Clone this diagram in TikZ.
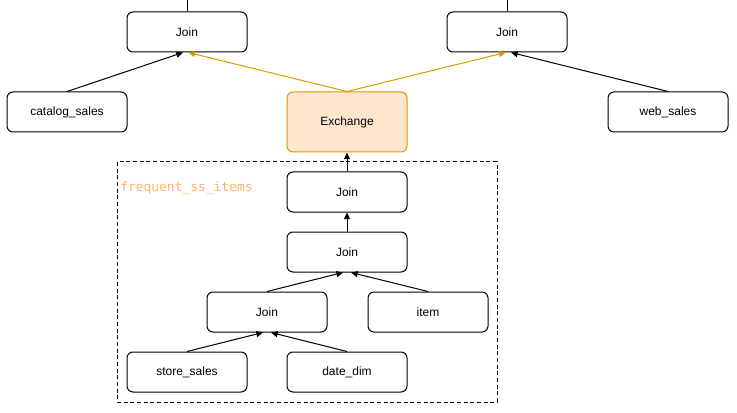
\documentclass[tikz,border=0pt]{standalone}
\usepackage{fontspec}
\setmainfont{Liberation Sans}
\newfontfamily\codefont{DejaVu Sans Mono}
\usetikzlibrary{arrows.meta}
\definecolor{xorange}{HTML}{D79B00}
\definecolor{xfill}{HTML}{FFE6CC}
\definecolor{xlabel}{HTML}{FFB366}
\tikzset{
  opbox/.style={rectangle, draw, rounded corners=4.5pt, line width=0.75pt,
    minimum width=90pt, minimum height=30pt, font=\fontsize{9}{11}\selectfont},
  edge/.style={line width=0.75pt, -{Triangle[length=5pt,width=4.5pt]}},
}
\begin{document}
\begin{tikzpicture}[x=0.75pt,y=-0.75pt]
  \useasboundingbox (0,0) rectangle (737,413);
  % Nodes
  \node (joinL) at (187,32) [opbox] {Join};
  \node (joinR) at (507,32) [opbox] {Join};
  \node (catalog) at (67,112) [opbox] {catalog\_sales};
  \node (exchange) at (347,122) [opbox, draw=xorange, fill=xfill, minimum height=45pt] {Exchange};
  \node (web) at (668,112) [opbox] {web\_sales};
  \node (joinA) at (347,192) [opbox] {Join};
  \node (joinB) at (347,252) [opbox] {Join};
  \node (joinC) at (267,312) [opbox] {Join};
  \node (item) at (428,312) [opbox] {item};
  \node (store) at (187,372) [opbox] {store\_sales};
  \node (date) at (347,372) [opbox] {date\_dim};
  \coordinate (topL) at (187,0);
  \coordinate (topR) at (507,0);

  % Group
  \draw[dashed, line width=0.75pt, dash pattern=on 3pt off 2pt] (117,162) rectangle (497,402);
  \node (grp) at (120,188) [anchor=west, inner sep=0pt, text=xlabel, font=\codefont\fontsize{9.7}{11}\selectfont] {frequent\_ss\_items};

  % Edges
  \draw[line width=0.75pt] (joinL.north) -- (topL);
  \draw[line width=0.75pt] (joinR.north) -- (topR);
  \draw[edge] (catalog.north) -- ([xshift=-3pt]joinL.south);
  \draw[edge, xorange] (exchange.north) -- ([xshift=1pt]joinL.south);
  \draw[edge, xorange] (exchange.north) -- ([xshift=-1pt]joinR.south);
  \draw[edge] (web.north) -- ([xshift=3pt]joinR.south);
  \draw[edge] (joinA.north) -- (exchange.south);
  \draw[edge] (joinB.north) -- (joinA.south);
  \draw[edge] (joinC.north) -- ([xshift=-3pt]joinB.south);
  \draw[edge] (item.north) -- ([xshift=3pt]joinB.south);
  \draw[edge] (store.north) -- ([xshift=-3pt]joinC.south);
  \draw[edge] (date.north) -- ([xshift=3pt]joinC.south);
\end{tikzpicture}
\end{document}
